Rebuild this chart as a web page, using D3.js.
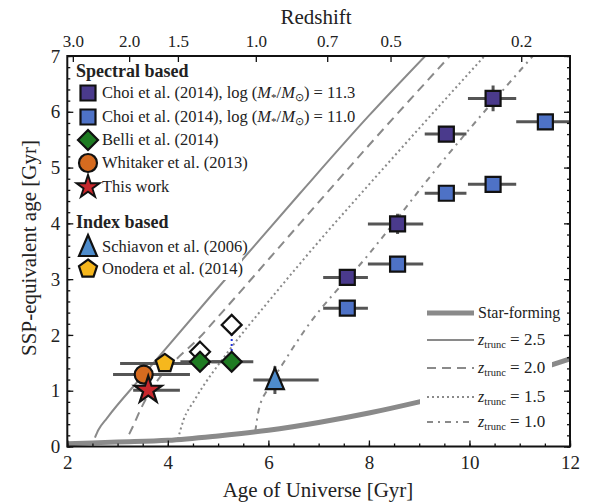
<!DOCTYPE html>
<html>
<head>
<meta charset="utf-8">
<script src="https://cdn.jsdelivr.net/npm/d3@7"></script>
<style>
  body { margin: 0; background: #fff; }
  svg { display: block; }
  text { font-family: "Liberation Serif", "Times New Roman", serif; fill: #222; }
</style>
</head>
<body>
<svg width="590" height="503"></svg>
<script>
// ---- data ----
const xTicks = [2, 4, 6, 8, 10, 12];
const yTicks = [0, 1, 2, 3, 4, 5, 6, 7];
const redshiftLabels = ["3.0", "2.0", "1.5", "1.0", "0.7", "0.5", "0.2"];
const redshiftAges = [2.11, 3.23, 4.20, 5.75, 7.17, 8.43, 11.03];

// star-forming track
const sfAge = [2, 3, 4, 5, 6, 7, 8, 9, 10, 11, 12];
const sfSSP = [0.05, 0.08, 0.11, 0.19, 0.29, 0.43, 0.60, 0.80, 1.02, 1.28, 1.57];

// truncated tracks
const t25Age = [2.55, 2.62, 2.79, 3.5, 4.8, 6.63, 8.0, 9.12];
const t25SSP = [0.16, 0.30, 0.51, 1.27, 2.64, 4.54, 5.93, 7.0];
const t20Age = [3.23, 3.30, 3.45, 4.77, 5.30, 6.63, 8.0, 9.61];
const t20SSP = [0.22, 0.35, 0.65, 2.09, 2.63, 4.0, 5.4, 7.0];
const t15Age = [4.20, 4.31, 4.53, 5.2, 6.03, 6.63, 8.5, 10.3];
const t15SSP = [0.13, 0.47, 0.83, 1.7, 2.63, 3.28, 5.2, 7.0];
const t10Age = [5.74, 5.80, 6.0, 6.3, 6.72, 8.0, 9.48, 11.26];
const t10SSP = [0.27, 0.62, 1.05, 1.5, 2.08, 3.45, 5.13, 7.0];

// Choi et al. (2014)
const choiHighAge = [7.57, 8.57, 9.54, 10.47];
const choiHighSSP = [3.03, 3.99, 5.60, 6.24];
const choiHighLo = [7.09, 7.98, 9.11, 9.97];
const choiHighHi = [7.98, 9.08, 9.94, 10.93];
const choiHighYerr = [0.1, 0.18, 0.1, 0.23];
const choiLowAge = [7.57, 8.57, 9.54, 10.47, 11.51];
const choiLowSSP = [2.48, 3.27, 4.54, 4.70, 5.82];
const choiLowLo = [7.09, 7.98, 9.11, 9.97, 10.93];
const choiLowHi = [7.98, 9.08, 9.94, 10.93, 12.0];
const choiLowYerr = [0.1, 0.1, 0.1, 0.1, 0.1];

// Belli et al. (2014)
const belliAge = [4.64, 5.27];
const belliSSP = [1.52, 1.52];
const belliLo = [4.25, 4.87];
const belliHi = [5.05, 5.70];
const belliAltSSP = [1.70, 2.18];

// Whitaker, this work, Schiavon, Onodera
const whitakerAge = [3.52], whitakerSSP = [1.29], whitakerLo = [2.91], whitakerHi = [4.44];
const thisAge = [3.61], thisSSP = [1.01], thisLo = [3.31], thisHi = [4.24];
const schiavonAge = [6.13], schiavonSSP = [1.19], schiavonLo = [5.70], schiavonHi = [7.0], schiavonYerr = [0.25];
const onoderaAge = [3.94], onoderaSSP = [1.49], onoderaLo = [3.05], onoderaHi = [4.84];

// ---- layout ----
var svg = d3.select("svg"),
    plotLeft = 67.3, plotRight = 570, plotTop = 56, plotBottom = 446.5;

var x = d3.scaleLinear().domain([2, 12]).range([plotLeft, plotRight]);
var y = d3.scaleLinear().domain([0, 7]).range([plotBottom, plotTop]);

var grey = "#8a8a8a", barGrey = "#555";

svg.append("clipPath").attr("id", "plot")
  .append("rect").attr("x", plotLeft).attr("y", plotTop)
  .attr("width", plotRight - plotLeft).attr("height", plotBottom - plotTop);

var plot = svg.append("g").attr("clip-path", "url(#plot)");

function zip(a, b) { return a.map(function (v, i) { return [v, b[i]]; }); }

var line = d3.line()
    .x(function (d) { return x(d[0]); })
    .y(function (d) { return y(d[1]); })
    .curve(d3.curveMonotoneX);

plot.append("path").attr("d", line(zip(sfAge, sfSSP)))
  .attr("fill", "none").attr("stroke", grey).attr("stroke-width", 5);

var tracks = [
  { pts: zip(t25Age, t25SSP), dash: null },
  { pts: zip(t20Age, t20SSP), dash: "9,6" },
  { pts: zip(t15Age, t15SSP), dash: "2,3" },
  { pts: zip(t10Age, t10SSP), dash: "6,5,2,5" }
];
plot.selectAll(".track").data(tracks).enter().append("path")
  .attr("class", "track")
  .attr("d", function (d) { return line(d.pts); })
  .attr("fill", "none").attr("stroke", grey).attr("stroke-width", 2)
  .attr("stroke-dasharray", function (d) { return d.dash; });

// legends' white backgrounds
svg.append("rect").attr("x", 69).attr("y", 58).attr("width", 173).attr("height", 222).attr("fill", "#fff");
svg.append("rect").attr("x", 420).attr("y", 298).attr("width", 132).attr("height", 140).attr("fill", "#fff");

// ---- markers ----
function pentagon(r) {
  var p = d3.range(5).map(function (i) {
    var a = -Math.PI / 2 + i * 2 * Math.PI / 5;
    return [r * Math.cos(a), r * Math.sin(a)];
  });
  return "M" + p.join("L") + "Z";
}
var shapes = {
  square: d3.symbol(d3.symbolSquare, 225)(),
  diamond: "M0,-10L10,0L0,10L-10,0Z",
  circle: d3.symbol(d3.symbolCircle, Math.PI * 81)(),
  star: d3.symbol(d3.symbolStar, 230)(),
  triangle: "M0,-12L9,9L-9,9Z",
  pentagon: pentagon(9.5)
};

function series(age, ssp, lo, hi, yerr, shape, fill) {
  return age.map(function (a, i) {
    return { x: a, y: ssp[i], lo: lo ? lo[i] : null, hi: hi ? hi[i] : null,
             yerr: yerr ? yerr[i] : 0, shape: shape, fill: fill };
  });
}

var points = [].concat(
  series(schiavonAge, schiavonSSP, schiavonLo, schiavonHi, schiavonYerr, "triangle", "#4e8ccc"),
  series(onoderaAge, onoderaSSP, onoderaLo, onoderaHi, null, "pentagon", "#f6b71d"),
  series(belliAge, belliAltSSP, null, null, null, "diamond", "#fff"),
  series(belliAge, belliSSP, belliLo, belliHi, null, "diamond", "#1e7b22"),
  series(whitakerAge, whitakerSSP, whitakerLo, whitakerHi, null, "circle", "#d66b1f"),
  series(thisAge, thisSSP, thisLo, thisHi, null, "star", "#c8282d"),
  series(choiHighAge, choiHighSSP, choiHighLo, choiHighHi, choiHighYerr, "square", "#4a3a8c"),
  series(choiLowAge, choiLowSSP, choiLowLo, choiLowHi, choiLowYerr, "square", "#4e72c6")
);

// blue dotted link between the two Belli estimates
svg.selectAll(".link").data(zip(belliAge, belliSSP).slice(1)).enter().append("line")
  .attr("x1", function (d) { return x(d[0]); }).attr("x2", function (d) { return x(d[0]); })
  .attr("y1", function () { return y(belliAltSSP[1]) + 9; })
  .attr("y2", function (d) { return y(d[1]) - 9; })
  .attr("stroke", "#2233dd").attr("stroke-width", 2).attr("stroke-dasharray", "2,3");

var bars = plot.append("g");
bars.selectAll(".xbar").data(points.filter(function (d) { return d.lo !== null; })).enter().append("line")
  .attr("x1", function (d) { return x(d.lo); }).attr("x2", function (d) { return x(d.hi); })
  .attr("y1", function (d) { return y(d.y); }).attr("y2", function (d) { return y(d.y); })
  .attr("stroke", barGrey).attr("stroke-width", 3);
bars.selectAll(".ybar").data(points.filter(function (d) { return d.yerr > 0; })).enter().append("line")
  .attr("x1", function (d) { return x(d.x); }).attr("x2", function (d) { return x(d.x); })
  .attr("y1", function (d) { return y(d.y - d.yerr); }).attr("y2", function (d) { return y(d.y + d.yerr); })
  .attr("stroke", barGrey).attr("stroke-width", 3);

svg.append("g").selectAll("path").data(points).enter().append("path")
  .attr("d", function (d) { return shapes[d.shape]; })
  .attr("transform", function (d) { return "translate(" + x(d.x) + "," + y(d.y) + ")"; })
  .attr("fill", function (d) { return d.fill; })
  .attr("stroke", "#111").attr("stroke-width", 2.2).attr("stroke-linejoin", "miter");

// ---- axes ----
function styleAxis(g, size) {
  g.select(".domain").remove();
  g.selectAll(".tick line").attr("stroke", "#111").attr("stroke-width", 1.3);
  g.selectAll("text").attr("font-size", size).attr("fill", "#222")
    .attr("font-family", "Liberation Serif, Times New Roman, serif");
}

var minorX = d3.range(2, 12.01, 0.5), minorY = d3.range(0, 7.01, 0.2);

svg.append("g").attr("transform", "translate(0," + plotBottom + ")")
  .call(d3.axisBottom(x).tickValues(xTicks).tickSize(-6).tickPadding(9).tickFormat(d3.format("d")))
  .call(styleAxis, 19);
svg.append("g").attr("transform", "translate(0," + plotBottom + ")")
  .call(d3.axisBottom(x).tickValues(minorX).tickSize(-3).tickFormat(""))
  .call(styleAxis, 0);
svg.append("g").attr("transform", "translate(" + plotLeft + ",0)")
  .call(d3.axisLeft(y).tickValues(yTicks).tickSize(-6).tickPadding(7).tickFormat(d3.format("d")))
  .call(styleAxis, 19);
svg.append("g").attr("transform", "translate(" + plotLeft + ",0)")
  .call(d3.axisLeft(y).tickValues(minorY).tickSize(-3).tickFormat(""))
  .call(styleAxis, 0);
svg.append("g").attr("transform", "translate(" + plotRight + ",0)")
  .call(d3.axisRight(y).tickValues(yTicks).tickSize(-6).tickFormat(""))
  .call(styleAxis, 0);
svg.append("g").attr("transform", "translate(" + plotRight + ",0)")
  .call(d3.axisRight(y).tickValues(minorY).tickSize(-3).tickFormat(""))
  .call(styleAxis, 0);
svg.append("g").attr("transform", "translate(0," + plotTop + ")")
  .call(d3.axisTop(x).tickValues(redshiftAges).tickSize(-6).tickPadding(9)
    .tickFormat(function (d, i) { return redshiftLabels[i]; }))
  .call(styleAxis, 17);

svg.append("rect").attr("x", plotLeft).attr("y", plotTop)
  .attr("width", plotRight - plotLeft).attr("height", plotBottom - plotTop)
  .attr("fill", "none").attr("stroke", "#111").attr("stroke-width", 2);

svg.append("text").attr("x", 318).attr("y", 497).attr("text-anchor", "middle")
  .attr("font-size", 21).text("Age of Universe [Gyr]");
svg.append("text").attr("x", 316).attr("y", 24).attr("text-anchor", "middle")
  .attr("font-size", 21).text("Redshift");
svg.append("text").attr("transform", "translate(36,248) rotate(-90)").attr("text-anchor", "middle")
  .attr("font-size", 21).text("SSP-equivalent age [Gyr]");

// ---- top-left legend ----
var lg = svg.append("g");
lg.append("text").attr("x", 76).attr("y", 77).attr("font-size", 18).attr("font-weight", "bold").text("Spectral based");
lg.append("text").attr("x", 76).attr("y", 228).attr("font-size", 18).attr("font-weight", "bold").text("Index based");

var entries = [
  { y: 93, shape: "square", fill: "#4a3a8c", mass: "11.3" },
  { y: 117, shape: "square", fill: "#4e72c6", mass: "11.0" },
  { y: 140, shape: "diamond", fill: "#1e7b22", label: "Belli et al. (2014)" },
  { y: 163, shape: "circle", fill: "#d66b1f", label: "Whitaker et al. (2013)" },
  { y: 187, shape: "star", fill: "#c8282d", label: "This work" },
  { y: 247, shape: "triangle", fill: "#4e8ccc", label: "Schiavon et al. (2006)" },
  { y: 269, shape: "pentagon", fill: "#f6b71d", label: "Onodera et al. (2014)" }
];
lg.selectAll("path").data(entries).enter().append("path")
  .attr("d", function (d) { return shapes[d.shape]; })
  .attr("transform", function (d) { return "translate(88," + d.y + ")" + (d.shape === "star" ? " scale(0.85)" : ""); })
  .attr("fill", function (d) { return d.fill; })
  .attr("stroke", "#111").attr("stroke-width", 2.2);
entries.forEach(function (d) {
  var t = lg.append("text").attr("x", 102).attr("y", d.y + 5).attr("font-size", 16.5);
  if (d.mass) {
    t.append("tspan").text("Choi et al. (2014), log (");
    t.append("tspan").attr("font-style", "italic").text("M");
    t.append("tspan").attr("font-size", 11).attr("dy", 3).text("*");
    t.append("tspan").attr("dy", -3).text("/");
    t.append("tspan").attr("font-style", "italic").text("M");
    t.append("tspan").attr("font-size", 11).attr("dy", 3).text("\u2299");
    t.append("tspan").attr("dy", -3).text(") = " + d.mass);
  } else {
    t.text(d.label);
  }
});

// ---- bottom-right legend ----
var lines = [
  { y: 313, w: 5, dash: null, z: null },
  { y: 340, w: 2, dash: null, z: "2.5" },
  { y: 368, w: 2, dash: "9,6", z: "2.0" },
  { y: 397, w: 2, dash: "2,3", z: "1.5" },
  { y: 422, w: 2, dash: "6,5,2,5", z: "1.0" }
];
var lg2 = svg.append("g");
lg2.selectAll("line").data(lines).enter().append("line")
  .attr("x1", 427).attr("x2", 474)
  .attr("y1", function (d) { return d.y; }).attr("y2", function (d) { return d.y; })
  .attr("stroke", grey).attr("stroke-width", function (d) { return d.w; })
  .attr("stroke-dasharray", function (d) { return d.dash; });
lines.forEach(function (d) {
  var t = lg2.append("text").attr("x", 478).attr("y", d.y + 5).attr("font-size", 16);
  if (!d.z) { t.text("Star-forming"); return; }
  t.append("tspan").attr("font-style", "italic").text("z");
  t.append("tspan").attr("font-size", 10.5).attr("dy", 3).text("trunc");
  t.append("tspan").attr("dy", -3).attr("font-size", 17).text(" = " + d.z);
});
</script>
</body>
</html>
